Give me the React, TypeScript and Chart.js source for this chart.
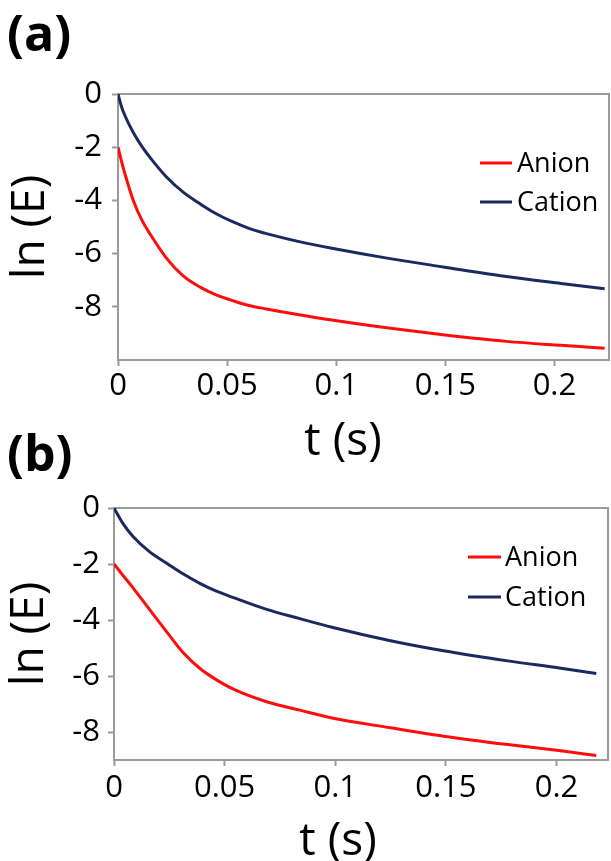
import React, { useEffect, useRef } from "react";
import { Chart, registerables } from "chart.js";

Chart.register(...registerables);

// ---------- text ----------
const SERIES_LABELS = ["Anion", "Cation"];
const PANEL_LABELS = ["(a)", "(b)"];
const X_TITLE = "t (s)";
const Y_TITLE = "ln (E)";
const X_TICKS = [0, 0.05, 0.1, 0.15, 0.2];
const Y_TICKS = [0, -2, -4, -6, -8];

// ---------- panel (a) data ----------
const tA = [0, 0.0015, 0.003, 0.007, 0.011, 0.015, 0.022, 0.03, 0.038, 0.045, 0.053, 0.06, 0.068, 0.083, 0.098, 0.124, 0.149, 0.178, 0.203, 0.223];
const anionA = [-2, -2.5, -2.95, -4.0, -4.75, -5.3, -6.15, -6.85, -7.28, -7.55, -7.78, -7.95, -8.08, -8.3, -8.5, -8.8, -9.05, -9.3, -9.45, -9.56];
const cationA = [0, -0.45, -0.78, -1.45, -1.98, -2.42, -3.1, -3.7, -4.15, -4.5, -4.82, -5.05, -5.25, -5.55, -5.8, -6.18, -6.5, -6.86, -7.12, -7.32];

// ---------- panel (b) data ----------
const tB = [0, 0.004, 0.0086, 0.016, 0.024, 0.031, 0.039, 0.046, 0.054, 0.069, 0.084, 0.0985, 0.125, 0.149, 0.178, 0.202, 0.218];
const anionB = [-2, -2.4, -2.85, -3.62, -4.44, -5.14, -5.74, -6.12, -6.47, -6.92, -7.22, -7.5, -7.85, -8.15, -8.45, -8.67, -8.84];
const cationB = [0, -0.55, -1.02, -1.56, -1.98, -2.34, -2.7, -2.96, -3.2, -3.62, -3.95, -4.26, -4.74, -5.1, -5.46, -5.72, -5.91];

const RED = "#ff0d0d";
const NAVY = "#1b2a5e";
const GRAY = "#9a9a9a";
const FONT = "'Open Sans', sans-serif";

const decorPlugin = {
  id: "decor",
  beforeDatasetsDraw(chart: any) {
    const { ctx, chartArea: a } = chart;
    ctx.save();
    ctx.strokeStyle = GRAY;
    ctx.lineWidth = 2;
    ctx.strokeRect(a.left, a.top, a.right - a.left, a.bottom - a.top);
    ctx.restore();
  },
  afterDraw(chart: any, _a: any, opts: any) {
    const { ctx } = chart;
    ctx.save();
    ctx.font = `27px ${FONT}`;
    ctx.textBaseline = "middle";
    ctx.textAlign = "left";
    chart.data.datasets.forEach((ds: any, i: number) => {
      const y = opts.legendY[i];
      ctx.strokeStyle = ds.borderColor;
      ctx.lineWidth = 3;
      ctx.beginPath();
      ctx.moveTo(opts.legendX1, y);
      ctx.lineTo(opts.legendX2, y);
      ctx.stroke();
      ctx.fillStyle = "#000";
      ctx.fillText(ds.label, opts.legendTextX, y + 1);
    });
    ctx.font = `46px ${FONT}`;
    ctx.textAlign = "center";
    ctx.fillStyle = "#000";
    ctx.fillText(X_TITLE, opts.xTitleX, opts.xTitleY);
    ctx.restore();
  },
};

function buildConfig(p: any) {
  const tickFont = { family: FONT, size: 31 };
  return {
    type: "line",
    data: {
      datasets: [
        {
          label: SERIES_LABELS[0],
          data: p.t.map((x: number, i: number) => ({ x, y: p.anion[i] })),
          borderColor: RED,
          backgroundColor: RED,
          borderWidth: 3,
          pointRadius: 0,
          cubicInterpolationMode: "monotone",
        },
        {
          label: SERIES_LABELS[1],
          data: p.t.map((x: number, i: number) => ({ x, y: p.cation[i] })),
          borderColor: NAVY,
          backgroundColor: NAVY,
          borderWidth: 3,
          pointRadius: 0,
          cubicInterpolationMode: "monotone",
        },
      ],
    },
    options: {
      responsive: false,
      animation: false,
      events: [],
      layout: { padding: { left: p.padLeft, right: p.padRight, top: 0, bottom: 0 } },
      plugins: {
        legend: { display: false },
        tooltip: { enabled: false },
        title: {
          display: true,
          text: p.label,
          align: "start",
          color: "#000",
          font: { family: FONT, size: 50, weight: "bold", lineHeight: 1 },
          padding: { top: p.titlePadTop, bottom: p.titlePadBottom },
        },
        decor: p.decor,
      },
      scales: {
        x: {
          type: "linear",
          bounds: "data",
          min: 0,
          max: p.xMax,
          afterFit: (s: any) => {
            s.height = p.xHeight;
          },
          afterBuildTicks: (s: any) => {
            s.ticks = X_TICKS.map((value) => ({ value }));
          },
          ticks: {
            autoSkip: false,
            maxRotation: 0,
            padding: p.xTickPad,
            color: "#000",
            font: tickFont,
            callback: (v: number) => String(+v.toFixed(2)),
          },
          grid: {
            display: true,
            drawOnChartArea: false,
            drawTicks: true,
            tickLength: 6,
            tickWidth: 2,
            color: GRAY,
          },
          border: { display: true, color: GRAY, width: 2 },
        },
        y: {
          type: "linear",
          bounds: "data",
          min: p.yMin,
          max: 0,
          afterFit: (s: any) => {
            s.width = p.yWidth;
          },
          afterBuildTicks: (s: any) => {
            s.ticks = Y_TICKS.map((value) => ({ value }));
          },
          ticks: {
            autoSkip: false,
            padding: p.yTickPad,
            color: "#000",
            font: tickFont,
            callback: (v: number) => String(v),
          },
          grid: {
            display: true,
            drawOnChartArea: false,
            drawTicks: true,
            tickLength: 6,
            tickWidth: 2,
            color: GRAY,
          },
          border: { display: true, color: GRAY, width: 2 },
          title: {
            display: true,
            text: Y_TITLE,
            color: "#000",
            font: { family: FONT, size: 46, lineHeight: 1 },
            padding: { top: p.yTitlePad, bottom: 0 },
          },
        },
      },
    },
    plugins: [decorPlugin],
  };
}

const PANELS = [
  {
    label: PANEL_LABELS[0],
    t: tA,
    anion: anionA,
    cation: cationA,
    top: 0,
    height: 470,
    padLeft: 7,
    padRight: 2,
    titlePadTop: 12,
    titlePadBottom: 32,
    yWidth: 111,
    xHeight: 110,
    xMax: 0.225,
    yMin: -10,
    xTickPad: 2,
    yTickPad: 10,
    yTitlePad: 1,
    decor: { legendX1: 480, legendX2: 512, legendTextX: 517, legendY: [163, 202], xTitleX: 343, xTitleY: 442 },
  },
  {
    label: PANEL_LABELS[1],
    t: tB,
    anion: anionB,
    cation: cationB,
    top: 430,
    height: 431,
    padLeft: 7,
    padRight: 3,
    titlePadTop: 2,
    titlePadBottom: 26,
    yWidth: 107,
    xHeight: 101,
    xMax: 0.2233,
    yMin: -9,
    xTickPad: 4,
    yTickPad: 8,
    yTitlePad: 0,
    decor: { legendX1: 468, legendX2: 501, legendTextX: 505, legendY: [127, 167], xTitleX: 338, xTitleY: 412 },
  },
];

function Panel({ p }: { p: any }) {
  const ref = useRef<HTMLCanvasElement | null>(null);
  useEffect(() => {
    const chart = new Chart(ref.current as HTMLCanvasElement, buildConfig(p) as any);
    return () => chart.destroy();
  }, []);
  return (
    <canvas
      ref={ref}
      width={611}
      height={p.height}
      style={{ position: "absolute", left: 0, top: p.top, width: 611, height: p.height }}
    />
  );
}

export default function App() {
  return (
    <div style={{ position: "fixed", left: 0, top: 0, width: 611, height: 861, overflow: "hidden", background: "#fff" }}>
      {PANELS.map((p, i) => (
        <Panel key={i} p={p} />
      ))}
    </div>
  );
}
